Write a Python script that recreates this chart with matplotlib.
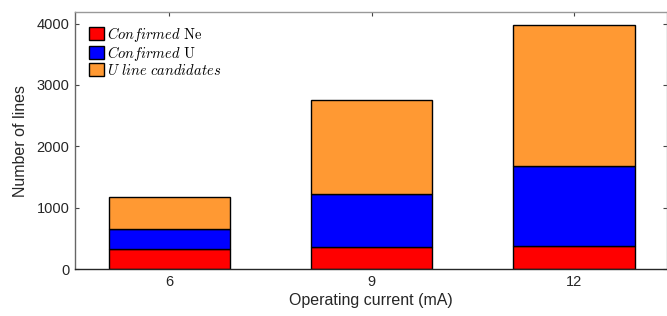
import matplotlib
matplotlib.use("Agg")
import matplotlib.pyplot as plt
import numpy as np

# operating current (mA) and line counts per category
currents = [6, 9, 12]
confirmed_ne = [320, 364, 370]
confirmed_u = [337, 859, 1305]
u_candidates = [522, 1534, 2310]

labels = [r"$\mathit{Confirmed}\ \mathrm{Ne}$",
          r"$\mathit{Confirmed}\ \mathrm{U}$",
          r"$\mathit{U\ line\ candidates}$"]
colors = ["#ff0000", "#0000ff", "#ff9933"]

plt.rcParams['font.family'] = ['Liberation Sans', 'DejaVu Sans']
plt.rcParams['mathtext.fontset'] = 'cm'

fig = plt.figure(figsize=(6.67, 3.16), dpi=100)
ax = fig.add_axes([0.1124, 0.1487, 0.8876, 0.8133])

x = np.array(currents)
bottom = np.zeros(len(x))
for vals, lab, c in zip([confirmed_ne, confirmed_u, u_candidates], labels, colors):
    ax.bar(x, vals, width=1.8, bottom=bottom, color=c, edgecolor='black',
           linewidth=1.0, label=lab, zorder=2)
    bottom = bottom + np.array(vals)

ax.set_xlim(4.6, 13.38)
ax.set_ylim(0, 4190)
ax.set_xticks(currents)
ax.set_yticks([0, 1000, 2000, 3000, 4000])

txt = '#262626'
ax.tick_params(direction='in', length=3, width=0.8, top=True, right=True,
               labelsize=10.5, colors='#444444', labelcolor=txt, pad=4)
ax.set_xlabel('Operating current (mA)', fontsize=11.5, color=txt, labelpad=3)
ax.set_ylabel('Number of lines', fontsize=11.5, color=txt, labelpad=6)

ax.spines['bottom'].set_color('#262626')
ax.spines['left'].set_color('#666666')
ax.spines['top'].set_color('#999999')
ax.spines['right'].set_color('#999999')
for s in ax.spines.values():
    s.set_linewidth(1.0)

ax.legend(loc='upper left', frameon=False, fontsize=10.5, handlelength=1.0,
          handleheight=1.0, handletextpad=0.25, labelspacing=0.0,
          borderaxespad=0.0, bbox_to_anchor=(0.014, 0.973))

fig.savefig('out.png', dpi=100)
